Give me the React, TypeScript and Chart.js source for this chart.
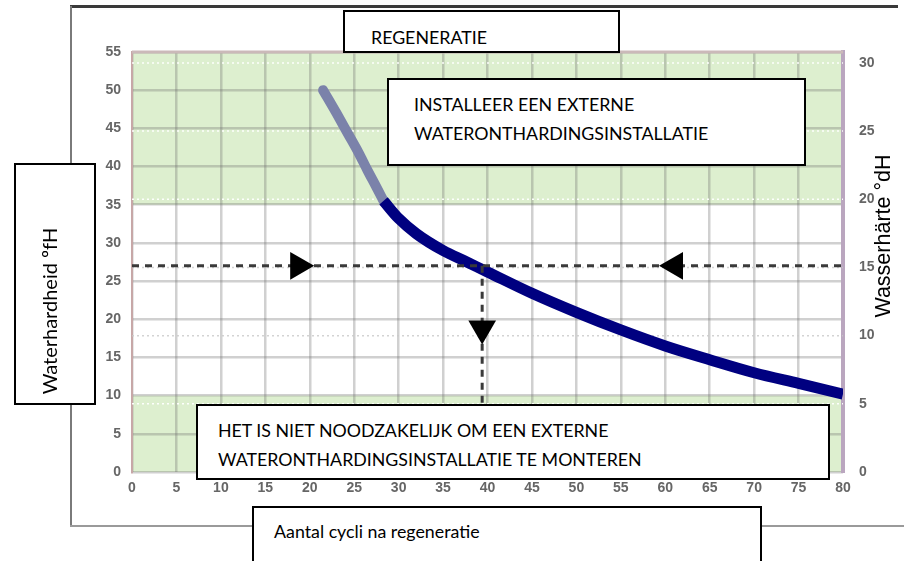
import { useEffect, useRef } from 'react';
import { Chart, registerables } from 'chart.js';

Chart.register(...registerables);

// Curve above the 35 °fH threshold (grey-blue part)
const upperCycles = [21.5, 23, 24.3, 25.5, 26.5, 27.5, 28.3];
const upperHardness = [50, 47, 44.3, 41.8, 39.5, 37.3, 35.5];
// Curve below the 35 °fH threshold (navy part)
const lowerCycles = [28.3, 30, 32, 35, 37.5, 40, 45, 50, 55, 60, 65, 70, 75, 80];
const lowerHardness = [35.5, 33.2, 31.2, 29, 27.6, 26.2, 23.4, 20.9, 18.6, 16.5, 14.7, 13.0, 11.6, 10.2];

// Zones (°fH): green below low, white between, green above high
const zoneLow = 10;
const zoneHigh = 35;

// Reading example
const exampleHardness = 27;
const exampleCycles = 39.4;
const arrowCycles = [18.7, 61.1, 39.4];
const arrowHardness = [27, 27, 18.8];
const arrowRotations = [90, 270, 180];

// Axes
const xMax = 80;
const yMax = 55;
const y1Max = 30.8;
const tickStep = 5;
const y1TickValues = [0, 5, 10, 15, 20, 25, 30];

const zonesPlugin = {
  id: 'zones',
  beforeDraw(chart: any) {
    const { ctx, chartArea, scales } = chart;
    const y = scales.y;
    ctx.save();
    ctx.fillStyle = '#ddefcf';
    const yHigh = y.getPixelForValue(zoneHigh);
    const yLow = y.getPixelForValue(zoneLow);
    ctx.fillRect(chartArea.left, chartArea.top, chartArea.right - chartArea.left, yHigh - chartArea.top);
    ctx.fillRect(chartArea.left, yLow, chartArea.right - chartArea.left, chartArea.bottom - yLow);
    ctx.restore();
  },
  afterDraw(chart: any) {
    const { ctx, chartArea } = chart;
    ctx.save();
    ctx.strokeStyle = '#cbb9b9';
    ctx.lineWidth = 3;
    ctx.beginPath();
    ctx.moveTo(chartArea.left, chartArea.top);
    ctx.lineTo(chartArea.right, chartArea.top);
    ctx.stroke();
    ctx.restore();
  },
};

const tickFont = { family: 'Liberation Sans, Arial, sans-serif', size: 14, weight: 'bold' as const };
const tickColor = '#666666';

export default function App() {
  const canvasRef = useRef<HTMLCanvasElement | null>(null);

  useEffect(() => {
    if (!canvasRef.current) return;
    const chart = new Chart(canvasRef.current, {
      type: 'line',
      data: {
        datasets: [
          {
            label: 'above',
            data: upperCycles.map((c, i) => ({ x: c, y: upperHardness[i] })),
            borderColor: '#7b82aa',
            borderWidth: 10,
            pointRadius: 0,
            cubicInterpolationMode: 'monotone',
            borderCapStyle: 'round',
            fill: false,
            order: 2,
          },
          {
            label: 'below',
            data: lowerCycles.map((c, i) => ({ x: c, y: lowerHardness[i] })),
            borderColor: '#000080',
            borderWidth: 11,
            pointRadius: 0,
            cubicInterpolationMode: 'monotone',
            fill: false,
            order: 1,
          },
          {
            label: 'hline',
            data: [
              { x: 0, y: exampleHardness },
              { x: xMax, y: exampleHardness },
            ],
            borderColor: '#3a3a3a',
            borderWidth: 3,
            borderDash: [7, 6],
            pointRadius: 0,
            fill: false,
            order: 0,
          },
          {
            label: 'vline',
            data: [
              { x: exampleCycles, y: exampleHardness },
              { x: exampleCycles, y: 0 },
            ],
            borderColor: '#3a3a3a',
            borderWidth: 3,
            borderDash: [7, 6],
            pointRadius: 0,
            fill: false,
            order: 0,
          },
          {
            label: 'arrows',
            data: arrowCycles.map((c, i) => ({ x: c, y: arrowHardness[i] })),
            showLine: false,
            pointStyle: 'triangle',
            pointRadius: 16,
            pointRotation: arrowRotations,
            pointBackgroundColor: '#000',
            pointBorderColor: '#000',
            pointBorderWidth: 0,
            order: -1,
          } as any,
        ],
      },
      options: {
        animation: false,
        responsive: false,
        events: [],
        layout: { padding: { top: 52, left: 0, right: 0, bottom: 0 } },
        plugins: { legend: { display: false }, tooltip: { enabled: false } },
        scales: {
          x: {
            type: 'linear',
            min: 0,
            max: xMax,
            afterFit: (s: any) => {
              s.height = 89;
            },
            ticks: { stepSize: tickStep, color: tickColor, font: tickFont, padding: 8, maxRotation: 0 },
            grid: { color: 'rgba(110,110,110,0.32)', lineWidth: 2.5, drawTicks: false },
            border: { display: false },
          },
          y: {
            type: 'linear',
            position: 'left',
            min: 0,
            max: yMax,
            afterFit: (s: any) => {
              s.width = 132;
            },
            ticks: { stepSize: tickStep, color: tickColor, font: tickFont, padding: 11 },
            grid: { color: 'rgba(110,110,110,0.32)', lineWidth: 2.5, drawTicks: false },
            border: { color: '#c7a7a7', width: 2 },
          },
          y1: {
            type: 'linear',
            position: 'right',
            min: 0,
            max: y1Max,
            afterFit: (s: any) => {
              s.width = 61;
            },
            afterBuildTicks: (s: any) => {
              s.ticks = y1TickValues.map((v) => ({ value: v }));
            },
            ticks: { color: tickColor, font: tickFont, padding: 8 },
            grid: { display: false },
            border: { color: '#baa6bf', width: 4 },
          },
        },
      },
      plugins: [
        zonesPlugin,
        {
          id: 'y1dots',
          beforeDatasetsDraw(chart: any) {
            // dotted grid for the right axis, positioned by its own scale
            const { ctx, chartArea, scales } = chart;
            const s = scales.y1;
            ctx.save();
            ctx.lineWidth = 1.5;
            ctx.setLineDash([2, 3]);
            s.ticks.forEach((t: any) => {
              const py = s.getPixelForValue(t.value);
              if (py <= chartArea.top + 1 || py >= chartArea.bottom - 1) return;
              const inGreen = t.value > 19 || t.value < 6;
              ctx.strokeStyle = inGreen ? 'rgba(255,255,255,0.95)' : 'rgba(200,200,200,0.8)';
              ctx.beginPath();
              ctx.moveTo(chartArea.left, py);
              ctx.lineTo(chartArea.right, py);
              ctx.stroke();
            });
            ctx.restore();
          },
        },
      ],
    } as any);
    return () => chart.destroy();
  }, []);

  const font = 'Lato, "Open Sans", sans-serif';
  const box = (l: number, t: number, w: number, h: number): any => ({
    position: 'absolute',
    left: l,
    top: t,
    width: w,
    height: h,
    border: '2px solid #000',
    background: '#fff',
    boxSizing: 'border-box',
  });
  const line = (l: number, cy: number): any => ({
    position: 'absolute',
    left: l,
    top: cy - 12,
    height: 24,
    lineHeight: '24px',
    fontFamily: font,
    fontSize: 17.8,
    color: '#000',
    whiteSpace: 'nowrap',
  });

  return (
    <div style={{ position: 'absolute', left: 0, top: 0, width: 904, height: 561, overflow: 'hidden', background: '#fff' }}>
      <canvas ref={canvasRef} width={904} height={561} style={{ position: 'absolute', left: 0, top: 0, width: 904, height: 561 }} />
      {/* outer frame */}
      <div style={{ position: 'absolute', left: 70, top: 5, width: 828, height: 3, background: '#3a3a3a' }} />
      <div style={{ position: 'absolute', left: 70, top: 6, width: 2, height: 520, background: '#7a7a7a' }} />
      <div style={{ position: 'absolute', left: 70, top: 525, width: 834, height: 2, background: '#9a9a9a' }} />

      <div style={box(343, 10, 277, 43)} />
      <div style={line(371, 37)}>REGENERATIE</div>

      <div style={box(387, 78, 419, 88)} />
      <div style={line(414, 104)}>INSTALLEER EEN EXTERNE</div>
      <div style={line(414, 133)}>WATERONTHARDINGSINSTALLATIE</div>

      <div style={box(14, 163, 82, 242)} />
      <div
        style={{
          position: 'absolute',
          left: 49 - 110,
          top: 311 - 13,
          width: 220,
          height: 26,
          lineHeight: '26px',
          textAlign: 'center',
          fontFamily: font,
          fontSize: 20,
          whiteSpace: 'nowrap',
          transform: 'rotate(-90deg)',
          transformOrigin: '50% 50%',
        }}
      >
        Waterhardheid ºfH
      </div>

      <div style={box(196, 404, 634, 76)} />
      <div style={line(218, 430)}>HET IS NIET NOODZAKELIJK OM EEN EXTERNE</div>
      <div style={line(218, 459)}>WATERONTHARDINGSINSTALLATIE TE MONTEREN</div>

      <div style={box(252, 506, 510, 70)} />
      <div style={line(274, 531)}>Aantal cycli na regeneratie</div>

      <div
        style={{
          position: 'absolute',
          left: 883 - 110,
          top: 236 - 13,
          width: 220,
          height: 26,
          lineHeight: '26px',
          textAlign: 'center',
          fontFamily: 'Liberation Sans, Arial, sans-serif',
          fontSize: 21.5,
          whiteSpace: 'nowrap',
          transform: 'rotate(-90deg)',
          transformOrigin: '50% 50%',
          color: '#000',
        }}
      >
        Wasserhärte °dH
      </div>
    </div>
  );
}
